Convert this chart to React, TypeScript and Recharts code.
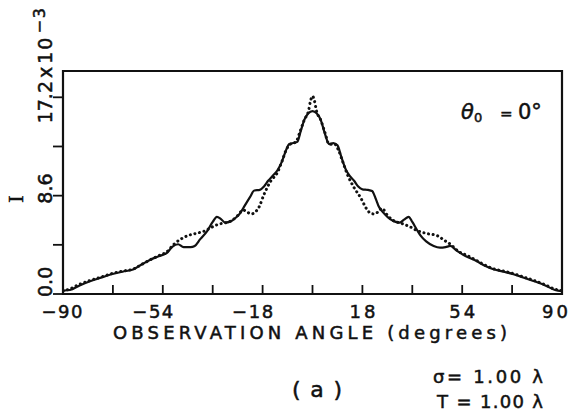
import { LineChart, Line, XAxis, YAxis, ReferenceArea } from 'recharts';

// solid curve
const solidAngles = [
  -90, -87.5, -84, -80, -76, -72.5, -68.5, -64.5, -61.5, -58.5, -55.5, -52.5, -50.5, -48.5, -46.5, -44,
  -42.5, -40.5, -38, -36, -34.5, -33, -31.5, -29.5, -28, -26, -24.5, -22.5, -21, -19, -17.5, -16, -14.5,
  -12.7, -11, -9.5, -8.5, -7, -5.5, -4.3, -3, -1.5, 0, 1.5, 3, 4.5, 6, 7.5, 9, 10.5, 12, 13.5, 15, 16.5,
  18, 20, 21.5, 22.7, 24, 26, 28, 29.5, 31.5, 33, 34.7, 36, 37.7, 39, 41, 43.7, 46, 48, 49.7, 52, 55, 59,
  62, 65.3, 69, 72.5, 76, 79.7, 84, 87.5, 90,
];
const solidValues = [
  0.3, 0.35, 0.75, 1.14, 1.45, 1.73, 1.95, 2.17, 2.6, 3.0, 3.3, 3.6, 4.15, 4.35, 4.1, 4.1,
  4.2, 4.8, 5.5, 6.3, 6.75, 6.55, 6.25, 6.35, 6.6, 7.1, 7.7, 8.5, 9.05, 9.1, 9.4, 9.9, 10.3,
  10.8, 11.6, 12.6, 13.1, 13.2, 13.3, 14.2, 15.2, 15.8, 16.0, 15.8, 15.2, 14.0, 13.1, 13.2, 13.0, 11.9, 10.9, 10.3, 9.9, 9.4,
  9.15, 9.1, 9.0, 8.4, 7.6, 7.0, 6.55, 6.35, 6.25, 6.5, 6.75, 6.3, 5.6, 5.1, 4.6, 4.2, 4.05, 4.1, 4.2, 3.8, 3.35, 2.9,
  2.5, 2.17, 1.95, 1.73, 1.45, 1.14, 0.75, 0.35, 0.25,
];

// dotted curve
const dotAngles = [
  -90, -87.5, -84, -80, -76, -72.5, -68.5, -64.5, -61.5, -58.5, -55.5, -52.5, -50, -47.5, -45, -42, -39,
  -37, -35, -33, -31, -29, -27, -25, -23.5, -22, -20.5, -19.3, -17.5, -15, -12.7, -11, -9.5, -8, -6, -4.5,
  -3, -1.4, -0.7, 0, 0.7, 1.4, 3, 4.5, 6, 8, 9.5, 11, 12.5, 15, 17.3, 19.5, 21, 22.2, 23.5, 25, 27, 29, 31,
  33, 35, 37.7, 41, 45, 47.5, 50, 52.5, 55.5, 59, 62, 65.3, 69, 72.5, 76, 79.7, 84, 87.5, 90,
];
const dotValues = [
  0.25, 0.45, 0.85, 1.2, 1.5, 1.78, 2.0, 2.2, 2.6, 3.0, 3.35, 3.7, 4.35, 4.8, 5.1, 5.3, 5.5,
  5.75, 6.0, 6.15, 6.25, 6.45, 6.85, 7.35, 7.15, 7.0, 7.2, 7.6, 8.7, 9.9, 10.6, 11.6, 12.6, 13.1, 13.3, 14.2,
  15.2, 16.05, 16.9, 17.3, 16.9, 16.05, 15.2, 14.1, 13.1, 13.1, 12.5, 11.5, 10.5, 9.3, 8.45, 7.45, 7.05, 7.0, 7.15, 7.5, 6.9, 6.45, 6.25,
  6.1, 5.9, 5.55, 5.3, 5.1, 4.7, 4.3, 3.75, 3.4, 2.95, 2.55, 2.2, 2.0, 1.78, 1.5, 1.2, 0.8, 0.42, 0.3,
];

const xTicks = [-90, -72, -54, -36, -18, 0, 18, 36, 54, 72, 90];
const xTickLabels = [-90, -54, -18, 18, 54, 90];
const yTicks = [0, 4.3, 8.6, 12.9, 17.2];
const yTickLabels = ['0.0', '8.6', '17.2'];

const solidData = solidAngles.map((a, i) => ({ angle: a, value: solidValues[i] }));
const dotData = dotAngles.map((a, i) => ({ angle: a, value: dotValues[i] }));

const font = '"DejaVu Sans", sans-serif';
const ink = '#111';
// plotter-style lettering is a bit heavier than the plain font
const heavy = { stroke: ink, strokeWidth: 0.5 };

function XTick({ x, y, payload }: any) {
  const v = payload.value;
  const show = xTickLabels.includes(v);
  const label = v < 0 ? '\u2212' + Math.abs(v) : String(v);
  // minus sign hangs to the left, edge labels kept inside the frame
  const cx = Math.min(Math.max(v < 0 ? x - 10 : x, 62), 555);
  return (
    <g>
      <line x1={x} y1={y} x2={x} y2={y - 9} stroke={ink} strokeWidth={1.8} />
      {show && (
        <text x={cx} y={y + 24} textAnchor="middle" fontSize={18} fontFamily={font} fill={ink} {...heavy}
          textLength={v < 0 ? 41 : 26} lengthAdjust="spacing">
          {label}
        </text>
      )}
    </g>
  );
}

function TopTick({ x, y }: any) {
  return <line x1={x} y1={y} x2={x} y2={y + 8} stroke={ink} strokeWidth={1.8} />;
}

function YTick({ x, y, payload }: any) {
  const v = payload.value;
  const label = v.toFixed(1);
  const show = yTickLabels.includes(label);
  const shift: Record<string, number> = { '0.0': 3, '8.6': 8, '17.2': 26 };
  const sy = y + (shift[label] ?? 0);
  const bx = x - 11;
  return (
    <g>
      <line x1={x - 10} y1={y} x2={x} y2={y} stroke={ink} strokeWidth={1.8} />
      {show && (
        <text x={bx} y={sy} transform={`rotate(-90 ${bx} ${sy})`} fontSize={19} fontFamily={font} fill={ink} {...heavy}>
          {label}
          {label === '17.2' && (
            <>
              <tspan dx={3}>x</tspan>
              <tspan dx={3} letterSpacing={2}>10</tspan>
              <tspan dx={2} dy={-7} fontSize={16} letterSpacing={2}>{'\u2212'}3</tspan>
            </>
          )}
        </text>
      )}
    </g>
  );
}

export default function App() {
  return (
    <div style={{ position: 'absolute', left: 0, top: 0, width: 574, height: 419, background: '#fff' }}>
      <LineChart width={574} height={419} margin={{ top: 70, right: 12, bottom: 124, left: 62 }}>
        <XAxis xAxisId={0} type="number" dataKey="angle" domain={[-90, 90]} ticks={xTicks} allowDataOverflow
          height={1} axisLine={false} tickLine={false} tickSize={0} tickMargin={0} tick={<XTick />} interval={0} />
        <XAxis xAxisId="top" orientation="top" type="number" dataKey="angle" domain={[-90, 90]} ticks={[0]}
          height={1} axisLine={false} tickLine={false} tickSize={0} tickMargin={0} tick={<TopTick />} />
        <YAxis type="number" domain={[0, 19.5]} ticks={yTicks} allowDataOverflow width={1}
          axisLine={false} tickLine={false} tickSize={0} tickMargin={0} tick={<YTick />} interval={0} />
        <ReferenceArea x1={-90} x2={90} y1={0} y2={19.5} fill="none" stroke={ink} strokeWidth={2.2} ifOverflow="visible" />
        <Line data={solidData} dataKey="value" type="monotone" stroke={ink} strokeWidth={2.2}
          dot={false} activeDot={false} isAnimationActive={false} />
        <Line data={dotData} dataKey="value" type="monotone" stroke={ink} strokeWidth={3}
          strokeDasharray="0.1 4.6" strokeLinecap="round" dot={false} activeDot={false} isAnimationActive={false} />
      </LineChart>
      <svg width={574} height={419} style={{ position: 'absolute', left: 0, top: 0, pointerEvents: 'none' }}>
        <text x={23} y={199} transform="rotate(-90 23 199)" textAnchor="middle" fontSize={22}
          fontFamily='"Liberation Serif", serif' fill={ink} {...heavy}>I</text>
        <text x={310} y={339} textAnchor="middle" fontSize={18} fontFamily={font} fill={ink} {...heavy}
          textLength={394} lengthAdjust="spacing">OBSERVATION ANGLE (degrees)</text>
        <text y={119} fontSize={21} fontFamily={font} fill={ink} {...heavy}>
          <tspan x={461} fontStyle="italic">θ</tspan>
          <tspan x={474} dy={3} fontSize={13}>0</tspan>
          <tspan x={500} dy={-3} fontSize={15}>=</tspan>
          <tspan x={518}>0°</tspan>
        </text>
        <text x={292} y={397} fontSize={22} fontFamily={font} fill={ink} {...heavy} textLength={50} lengthAdjust="spacing">(a)</text>
        <text x={433} y={383} fontSize={18} fontFamily={font} fill={ink} {...heavy} textLength={110} lengthAdjust="spacing">σ= 1.00 λ</text>
        <text x={437} y={408} fontSize={18} fontFamily={font} fill={ink} {...heavy} textLength={106} lengthAdjust="spacing">T = 1.00 λ</text>
      </svg>
    </div>
  );
}
